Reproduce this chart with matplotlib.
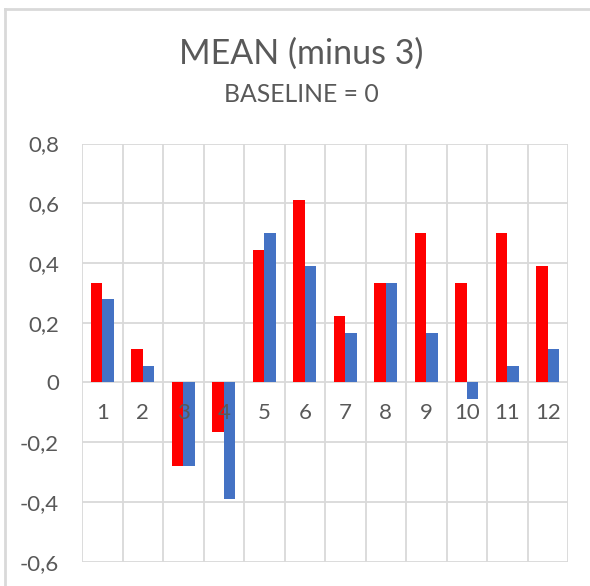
import matplotlib
matplotlib.use("Agg")
import matplotlib.pyplot as plt
from matplotlib.lines import Line2D
import numpy as np

categories = ["1", "2", "3", "4", "5", "6", "7", "8", "9", "10", "11", "12"]
red_values = [0.333, 0.111, -0.278, -0.167, 0.444, 0.611, 0.222, 0.333, 0.5, 0.333, 0.5, 0.389]
blue_values = [0.278, 0.056, -0.278, -0.389, 0.5, 0.389, 0.167, 0.333, 0.167, -0.056, 0.056, 0.111]
y_ticks = [-0.6, -0.4, -0.2, 0, 0.2, 0.4, 0.6, 0.8]
y_tick_labels = ["-0,6", "-0,4", "-0,2", "0", "0,2", "0,4", "0,6", "0,8"]
title = "MEAN (minus 3)"
subtitle = "BASELINE = 0"

plt.rcParams['font.family'] = ['Lato', 'DejaVu Sans']
text_color = "#595959"
grid_color = "#d9d9d9"

W, H = 590, 586
fig = plt.figure(figsize=(W / 100, H / 100), dpi=100)
ax = fig.add_axes([82 / W, 1 - 561.7 / H, (568 - 82) / W, (561.7 - 143.5) / H])

n = len(categories)
x = np.arange(n)
bw = 0.282
ax.bar(x - bw / 2, red_values, width=bw, color="#FF0000", zorder=3)
ax.bar(x + bw / 2, blue_values, width=bw, color="#4472C4", zorder=3)

ax.set_xlim(-0.5, n - 0.5)
ax.set_ylim(-0.6, 0.8)
ax.set_yticks(y_ticks)
ax.set_yticklabels(y_tick_labels, color=text_color, fontsize=16)
ax.tick_params(axis='y', length=0, pad=16.5)
ax.set_xticks([])

for yv in y_ticks:
    ax.axhline(yv, color=grid_color, lw=1.3, zorder=1)
for xv in np.arange(-0.5, n, 1.0):
    ax.axvline(xv, color=grid_color, lw=1.3, zorder=1)
for s in ax.spines.values():
    s.set_visible(False)

for i, c in enumerate(categories):
    ax.annotate(c, xy=(i, 0), xytext=(0, -31 * 0.72), textcoords='offset points',
                ha='center', va='center', fontsize=16, color=text_color, zorder=5)

fig.text(301 / W, 1 - 53.5 / H, title, ha='center', va='center', fontsize=24.5, color=text_color)
fig.text(301 / W, 1 - 94.2 / H, subtitle, ha='center', va='center', fontsize=17.8, color=text_color)

fig.add_artist(Line2D([4.5 / W, 4.5 / W], [0, 1 - 8.5 / H], color=grid_color, lw=2, transform=fig.transFigure))
fig.add_artist(Line2D([4.5 / W, 1], [1 - 8.5 / H, 1 - 8.5 / H], color=grid_color, lw=2, transform=fig.transFigure))

fig.savefig("out.png", dpi=100)
